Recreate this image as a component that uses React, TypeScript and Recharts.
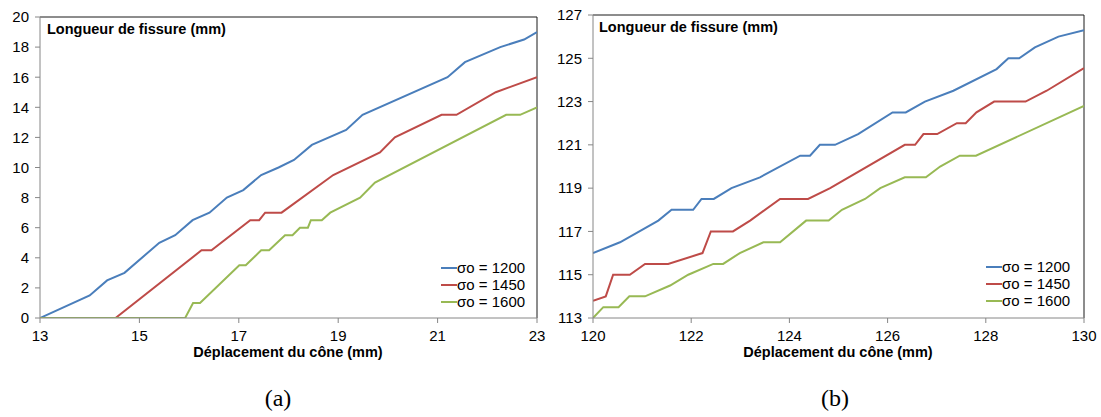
import { LineChart, Line, XAxis, YAxis, ReferenceLine, Legend } from "recharts";

// (a) crack length vs cone displacement, start of test
const a1200 = [
  [13, 0], [14.0, 1.5], [14.35, 2.5], [14.7, 3], [15.4, 5], [15.72, 5.5], [16.07, 6.5],
  [16.41, 7], [16.76, 8], [17.09, 8.5], [17.45, 9.5], [17.8, 10], [18.11, 10.5],
  [18.47, 11.5], [19.16, 12.5], [19.49, 13.5], [21.2, 16], [21.55, 17], [22.26, 18],
  [22.74, 18.5], [23, 19],
];
const a1450 = [
  [13, 0], [14.52, 0], [16.25, 4.5], [16.45, 4.5], [17.23, 6.5], [17.41, 6.5], [17.53, 7],
  [17.86, 7], [18.9, 9.5], [19.84, 11], [20.14, 12], [21.08, 13.5], [21.38, 13.5],
  [22.17, 15], [23, 16],
];
const a1600 = [
  [13, 0], [15.92, 0], [16.08, 1], [16.22, 1], [17.01, 3.5], [17.14, 3.5], [17.45, 4.5],
  [17.61, 4.5], [17.93, 5.5], [18.08, 5.5], [18.23, 6], [18.39, 6], [18.45, 6.5],
  [18.67, 6.5], [18.84, 7], [19.44, 8], [19.74, 9], [22.38, 13.5], [22.66, 13.5], [23, 14],
];

// (b) end of test
const b1200 = [
  [120, 116], [120.55, 116.5], [121.33, 117.5], [121.6, 118], [122.04, 118], [122.21, 118.5],
  [122.46, 118.5], [122.82, 119], [123.4, 119.5], [124.22, 120.5], [124.42, 120.5],
  [124.62, 121], [124.93, 121], [125.4, 121.5], [126.1, 122.5], [126.37, 122.5],
  [126.76, 123], [127.34, 123.5], [128.22, 124.5], [128.46, 125], [128.68, 125],
  [129.0, 125.5], [129.48, 126], [130, 126.3],
];
const b1450 = [
  [120, 113.8], [120.26, 114], [120.41, 115], [120.75, 115], [121.06, 115.5], [121.53, 115.5],
  [122.23, 116], [122.4, 117], [122.85, 117], [123.2, 117.5], [123.81, 118.5], [124.38, 118.5],
  [124.83, 119], [126.35, 121], [126.56, 121], [126.73, 121.5], [127.01, 121.5], [127.41, 122],
  [127.59, 122], [127.81, 122.5], [128.17, 123], [128.81, 123], [129.24, 123.5], [130, 124.55],
];
const b1600 = [
  [120, 113], [120.21, 113.5], [120.52, 113.5], [120.74, 114], [121.06, 114], [121.57, 114.5],
  [121.94, 115], [122.45, 115.5], [122.65, 115.5], [122.99, 116], [123.47, 116.5],
  [123.81, 116.5], [124.34, 117.5], [124.8, 117.5], [125.07, 118], [125.54, 118.5],
  [125.85, 119], [126.35, 119.5], [126.78, 119.5], [127.07, 120], [127.47, 120.5],
  [127.8, 120.5], [130, 122.8],
];

const aXTicks = [13, 15, 17, 19, 21, 23];
const aYTicks = [0, 2, 4, 6, 8, 10, 12, 14, 16, 18, 20];
const bXTicks = [120, 122, 124, 126, 128, 130];
const bYTicks = [113, 115, 117, 119, 121, 123, 125, 127];

const seriesNames = ["σo = 1200", "σo = 1450", "σo = 1600"];
const colors = ["#4A7EBB", "#BE4B48", "#98B954"];

const FONT = "Arial, 'Liberation Sans', sans-serif";
const AXIS = "#868686";

const toRows = (pts: number[][]) => pts.map(([x, y]) => ({ x, y }));

function renderLegend() {
  return (
    <div style={{ fontFamily: FONT, fontSize: 15, color: "#000" }}>
      {seriesNames.map((n, i) => (
        <div key={n} style={{ display: "flex", alignItems: "center", height: 17, lineHeight: "17px" }}>
          <span style={{ display: "inline-block", width: 16, height: 2, background: colors[i] }} />
          <span>{n}</span>
        </div>
      ))}
    </div>
  );
}

interface PanelProps {
  series: number[][][];
  xTicks: number[];
  yTicks: number[];
  yWidth: number;
  marginRight: number;
  marginTop: number;
  legendLeft: number;
  legendTop: number;
}

function Panel({ series, xTicks, yTicks, yWidth, marginRight, marginTop, legendLeft, legendTop }: PanelProps) {
  const xDom: [number, number] = [xTicks[0], xTicks[xTicks.length - 1]];
  const yDom: [number, number] = [yTicks[0], yTicks[yTicks.length - 1]];
  const tick = { fontSize: 15, fill: "#000", fontFamily: FONT };
  return (
    <LineChart width={550} height={360} margin={{ top: marginTop, right: marginRight, left: 6, bottom: 0 }}>
      <XAxis
        type="number"
        dataKey="x"
        domain={xDom}
        ticks={xTicks}
        allowDataOverflow
        height={42}
        tick={tick}
        tickSize={5}
        tickMargin={7}
        axisLine={{ stroke: AXIS }}
        tickLine={{ stroke: AXIS }}
      />
      <YAxis
        type="number"
        domain={yDom}
        ticks={yTicks}
        allowDataOverflow
        width={yWidth}
        tick={tick}
        tickSize={5}
        tickMargin={6}
        axisLine={{ stroke: AXIS }}
        tickLine={{ stroke: AXIS }}
      />
      <ReferenceLine y={yDom[1]} stroke="#1a1a1a" strokeWidth={1} />
      <ReferenceLine x={xDom[1]} stroke="#1a1a1a" strokeWidth={1} />
      {series.map((s, i) => (
        <Line
          key={seriesNames[i]}
          name={seriesNames[i]}
          data={toRows(s)}
          dataKey="y"
          type="linear"
          stroke={colors[i]}
          strokeWidth={2}
          dot={false}
          activeDot={false}
          isAnimationActive={false}
        />
      ))}
      <Legend
        layout="vertical"
        align="center"
        verticalAlign="middle"
        content={renderLegend}
        wrapperStyle={{ left: legendLeft, top: legendTop, width: 110 }}
      />
    </LineChart>
  );
}

const textBase = { position: "absolute" as const, fontFamily: FONT, color: "#000", whiteSpace: "nowrap" as const };

export default function App() {
  return (
    <div style={{ position: "relative", width: 1101, height: 417, background: "#fff" }}>
      <style>{`body{margin:0}`}</style>
      <div style={{ position: "absolute", left: 0, top: 0 }}>
        <Panel
          series={[a1200, a1450, a1600]}
          xTicks={aXTicks}
          yTicks={aYTicks}
          yWidth={34}
          marginRight={13}
          marginTop={17}
          legendLeft={441}
          legendTop={259}
        />
      </div>
      <div style={{ position: "absolute", left: 550, top: 0 }}>
        <Panel
          series={[b1200, b1450, b1600]}
          xTicks={bXTicks}
          yTicks={bYTicks}
          yWidth={37}
          marginRight={16}
          marginTop={15}
          legendLeft={436}
          legendTop={258}
        />
      </div>

      <div style={{ ...textBase, left: 47, top: 21, fontSize: 14.5, fontWeight: "bold", lineHeight: "16px" }}>
        Longueur de fissure (mm)
      </div>
      <div style={{ ...textBase, left: 599, top: 19, fontSize: 14.5, fontWeight: "bold", lineHeight: "16px" }}>
        Longueur de fissure (mm)
      </div>

      <div style={{ ...textBase, left: 188, width: 200, textAlign: "center", top: 344, fontSize: 14.5, fontWeight: "bold", lineHeight: "16px" }}>
        Déplacement du cône (mm)
      </div>
      <div style={{ ...textBase, left: 738, width: 200, textAlign: "center", top: 344, fontSize: 14.5, fontWeight: "bold", lineHeight: "16px" }}>
        Déplacement du cône (mm)
      </div>

      <div style={{ ...textBase, left: 238, width: 80, textAlign: "center", top: 384, fontSize: 24, lineHeight: "28px", fontFamily: "'Times New Roman', 'Liberation Serif', serif" }}>
        (a)
      </div>
      <div style={{ ...textBase, left: 795, width: 80, textAlign: "center", top: 384, fontSize: 24, lineHeight: "28px", fontFamily: "'Times New Roman', 'Liberation Serif', serif" }}>
        (b)
      </div>
    </div>
  );
}
